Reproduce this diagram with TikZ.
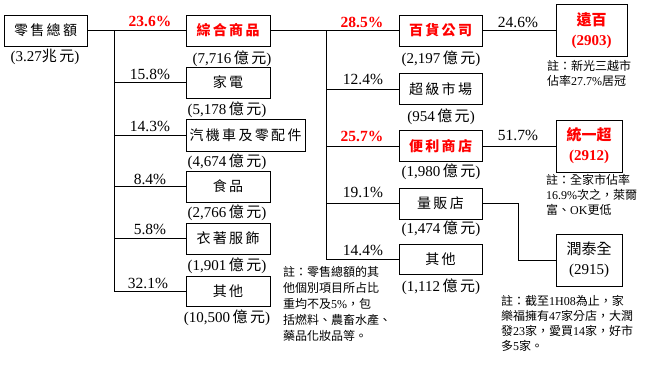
\documentclass[tikz,border=0pt]{standalone}
\usepackage{fontspec}
\setmainfont{Liberation Serif}
\newfontfamily\cjk{Noto Sans CJK TC}
\newcommand\zh[1]{{\cjk#1}}
\newcommand\en[1]{{\rmfamily#1}}
\begin{document}
\begin{tikzpicture}[x=1pt,y=-1pt,
  box/.style={draw, line width=1pt, inner sep=0pt, font=\cjk\fontsize{14}{16}\selectfont},
  redbox/.style={box, text=red, font=\cjk\bfseries\fontsize{14}{16}\selectfont},
  tall/.style={box, align=center, minimum width=66pt, minimum height=52pt, font=\fontsize{15}{20}\selectfont},
  val/.style={inner sep=0pt, font=\fontsize{15}{17}\selectfont},
  pct/.style={inner sep=0pt, font=\fontsize{15.5}{17}\selectfont},
  hot/.style={inner sep=0pt, text=red, font=\bfseries\fontsize{15.5}{17}\selectfont},
  note/.style={inner sep=0pt, anchor=north west, align=left, font=\cjk\fontsize{12}{15.5}\selectfont},
  conn/.style={line width=1pt}]
\useasboundingbox (0,0) rectangle (645,365);

% left column boxes
\node[box, minimum width=83pt, minimum height=31pt] (tot) at (45.5,30.5) {零\,售\,總\,額};
\node[redbox, minimum width=84pt, minimum height=31pt] (zh) at (228,30.5) {綜\,合\,商\,品};
\node[box, minimum width=84pt, minimum height=31pt] (jd) at (228,82.5) {家\,電};
\node[box, minimum width=119pt, minimum height=32pt] (qc) at (245.5,135) {汽\,機\,車\,及\,零\,配\,件};
\node[box, minimum width=84pt, minimum height=31pt] (sp) at (228,186.5) {食\,品};
\node[box, minimum width=84pt, minimum height=31pt] (yz) at (228,238.5) {衣\,著\,服\,飾};
\node[box, minimum width=84pt, minimum height=30pt] (qt) at (228,291) {其\,他};

% right column boxes
\node[redbox, minimum width=83pt, minimum height=31pt] (bh) at (440.5,30.5) {百\,貨\,公\,司};
\node[box, minimum width=83pt, minimum height=31pt] (cs) at (440.5,89) {超\,級\,市\,場};
\node[redbox, minimum width=83pt, minimum height=31pt] (bl) at (440.5,146) {便\,利\,商\,店};
\node[box, minimum width=83pt, minimum height=31pt] (lf) at (440.5,203.5) {量\,販\,店};
\node[box, minimum width=83pt, minimum height=30pt] (qt2) at (440.5,259.5) {其\,他};

% company boxes
\node[tall, minimum width=71pt, text=red] (yb) at (591.5,30.5) {\zh{\bfseries 遠百}\\\textbf{(2903)}};
\node[tall, text=red] (ty) at (589,146) {\zh{\bfseries 統一超}\\\textbf{(2912)}};
\node[tall] (rt) at (589,260) {\zh{潤泰全}\\(2915)};

% values
\node[val] (v0) at (45,57) {(3.27\zh{兆\,元})};
\node[val] (v1) at (232,59) {(7,716\zh{\,億\,元})};
\node[val] (v2) at (227,110) {(5,178\zh{\,億\,元})};
\node[val] (v3) at (227,162) {(4,674\zh{\,億\,元})};
\node[val] (v4) at (227,213) {(2,766\zh{\,億\,元})};
\node[val] (v5) at (227,266) {(1,901\zh{\,億\,元})};
\node[val] (v6) at (227,318) {(10,500\zh{\,億\,元})};
\node[val] (w1) at (441,59) {(2,197\zh{\,億\,元})};
\node[val] (w2) at (441,117) {(954\zh{\,億\,元})};
\node[val] (w3) at (441,172) {(1,980\zh{\,億\,元})};
\node[val] (w4) at (441,229) {(1,474\zh{\,億\,元})};
\node[val] (w5) at (441,287) {(1,112\zh{\,億\,元})};

% percentages
\node[hot] (p1) at (150,21) {23.6\%};
\node[pct] (p2) at (150,74) {15.8\%};
\node[pct] (p3) at (150,126) {14.3\%};
\node[pct] (p4) at (150,179) {8.4\%};
\node[pct] (p5) at (150,229) {5.8\%};
\node[pct] (p6) at (148,283) {32.1\%};
\node[hot] (q1) at (362,22) {28.5\%};
\node[pct] (q2) at (363,79) {12.4\%};
\node[hot] (q3) at (362,136) {25.7\%};
\node[pct] (q4) at (363,192) {19.1\%};
\node[pct] (q5) at (363,250) {14.4\%};
\node[pct] (r1) at (518,22) {24.6\%};
\node[pct] (r2) at (518,135) {51.7\%};

% notes
\node[note, font=\cjk\fontsize{12}{16}\selectfont] (n1) at (283,266) {註：零售總額的其\\他個別項目所占比\\重均不及\en{5\%}，包\\括燃料、農畜水產、\\藥品化妝品等。};
\node[note] (n2) at (547,60) {註：新光三越市\\佔率\en{27.7\%}居冠};
\node[note, font=\cjk\fontsize{12}{15}\selectfont] (n3) at (546,174) {註：全家市佔率\\\en{16.9\%}次之，萊爾\\富、\en{OK}更低};
\node[note, font=\cjk\fontsize{12}{15}\selectfont] (n4) at (501,295) {註：截至\en{1H08}為止，家\\樂福擁有\en{47}家分店，大潤\\發\en{23}家，愛買\en{14}家，好市\\多\en{5}家。};

% connectors
\coordinate (t1) at (114,30.5);
\coordinate (t2) at (326,30.5);
\draw[conn] (tot.east) -- (zh.west);
\draw[conn] (t1) |- (qt.west);
\draw[conn] (t1 |- jd.west) -- (jd.west);
\draw[conn] (t1 |- qc.west) -- (qc.west);
\draw[conn] (t1 |- sp.west) -- (sp.west);
\draw[conn] (t1 |- yz.west) -- (yz.west);
\draw[conn] (zh.east) -- (bh.west);
\draw[conn] (t2) |- (qt2.west);
\draw[conn] (t2 |- cs.west) -- (cs.west);
\draw[conn] (t2 |- bl.west) -- (bl.west);
\draw[conn] (t2 |- lf.west) -- (lf.west);
\draw[conn] (bh.east) -- (yb.west);
\draw[conn] (bl.east) -- (ty.west);
\draw[conn] (lf.east) -- ++(36,0) |- (rt.west);
\end{tikzpicture}
\end{document}
